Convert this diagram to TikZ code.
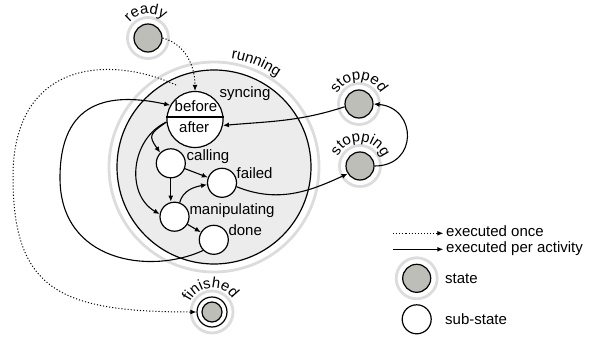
\documentclass[tikz,border=0pt]{standalone}
\usepackage{fontspec}
\setmainfont{Liberation Sans}
\usetikzlibrary{arrows.meta,decorations.text,calc}
\definecolor{stategray}{RGB}{188,190,183}
\definecolor{halogray}{RGB}{220,220,220}
\definecolor{runfill}{RGB}{236,236,236}
\newcommand\lblfont{\fontsize{15}{18}\selectfont}
\newcommand\arclabel[5]{%
  \path[decorate,decoration={text along path,text align=center,text={|\lblfont|#5}}]
    (#1) ++(#3:#2) arc[start angle=#3,end angle=#4,radius=#2];}
\begin{document}
\begin{tikzpicture}[x=1pt,y=1pt,
  every node/.style={font=\lblfont},
  statenode/.style={circle,draw,line width=1.2pt,fill=stategray,minimum size=28pt,inner sep=0pt},
  subnode/.style={circle,draw,line width=1.2pt,fill=white,minimum size=29pt,inner sep=0pt},
  halo/.style={draw=halogray,line width=2.8pt},
  lbl/.style={inner sep=0pt,anchor=base west},
  flow/.style={-{Latex[length=6pt,width=5pt]},line width=1.1pt},
  once/.style={flow,dash pattern=on 1.1pt off 2pt,line width=1pt}]
\useasboundingbox (0,0) rectangle (594,-337);

% running
\coordinate (runc) at (214,-167);
\draw[halo] (runc) circle[radius=105];
\draw[line width=1.2pt,fill=runfill] (runc) circle[radius=97];
\arclabel{runc}{110}{108}{28}{running}

% states
\node[statenode] (ready) at (148,-38) {};
\draw[halo] (ready) circle[radius=20.5];
\arclabel{ready}{24}{175}{15}{ready}

\node[statenode] (stopped) at (359,-104) {};
\draw[halo] (stopped) circle[radius=20.5];
\arclabel{stopped}{24}{175}{5}{stopped}

\node[statenode] (stopping) at (360,-166) {};
\draw[halo] (stopping) circle[radius=20.5];
\arclabel{stopping}{24}{175}{2}{stopping}

\node[circle,draw,line width=1.2pt,minimum size=30pt,inner sep=0pt,fill=white] (finished) at (212,-312) {};
\node[circle,draw,line width=1.2pt,fill=stategray,minimum size=20pt,inner sep=0pt] (finin) at (finished) {};
\draw[halo] (finished) circle[radius=21];
\arclabel{finished}{24}{175}{12}{finished}

% sub-states
\node[subnode,minimum size=56pt] (syncing) at (195,-119.5) {};
\draw[line width=1.2pt] ([yshift=2.5pt]syncing.west) -- ([yshift=2.5pt]syncing.east);
\node[lbl] (tbefore) at (174.5,-111.7) {before};
\node[lbl] (tafter) at (179,-132.7) {after};
\node[lbl] (tsync) at (219.3,-97.3) {syncing};

\node[subnode] (calling) at (170.8,-163.3) {};
\node[lbl] (tcall) at (186.5,-160.3) {calling};
\node[subnode] (failed) at (222,-182.8) {};
\node[lbl] (tfail) at (236.5,-178.3) {failed};
\node[subnode] (manip) at (174.5,-216.7) {};
\node[lbl] (tmanip) at (189.3,-214) {manipulating};
\node[subnode] (done) at (213.8,-239.8) {};
\node[lbl] (tdone) at (228.3,-235) {done};

% connectors
\draw[once] (ready.east) to[out=-15,in=90] (syncing.north);
\coordinate (fstart) at (176,-85);
\draw[once] (fstart) .. controls (110,-55) and (13,-60) .. (13,-177)
  .. controls (13,-290) and (60,-312) .. (finished.west);
\draw[flow] (done.225) .. controls (150,-275) and (60,-262) .. (60,-178)
  .. controls (60,-100) and (110,-92) .. (syncing.150);
\draw[flow] (syncing.185) to[out=215,in=125,looseness=1.7] (calling.135);
\draw[flow] (syncing.185) to[out=205,in=150,looseness=1.1] (manip.170);
\draw[flow] (calling) -- (failed);
\draw[flow] (calling.south) -- (calling.south |- manip.north);
\draw[flow] (manip.70) to[out=75,in=190] (failed.187);
\draw[flow] (manip) -- (done);
\draw[flow] (failed.-15) to[out=-22,in=205] (stopping.212);
\draw[flow] (stopped.191) to[out=198,in=5] (syncing.-12);
\draw[flow] (stopping.east) to[out=0,in=-5,looseness=1.8] (stopped.east);

% legend
\coordinate (l1a) at (393,-233.3);
\coordinate (l1b) at (443.3,-233.3);
\draw[once] (l1a) -- (l1b);
\node[lbl] (lt1) at (446,-236.7) {executed once};
\coordinate (l2a) at (393,-249.3);
\coordinate (l2b) at (443.3,-249.3);
\draw[flow] (l2a) -- (l2b);
\node[lbl] (lt2) at (446,-252.3) {executed per activity};
\node[statenode] (lstate) at (416.7,-278.3) {};
\draw[halo] (lstate) circle[radius=20.5];
\node[lbl] (lt3) at (445,-283) {state};
\node[subnode] (lsub) at (416.7,-319.3) {};
\node[lbl] (lt4) at (445,-324) {sub-state};
\end{tikzpicture}
\end{document}
